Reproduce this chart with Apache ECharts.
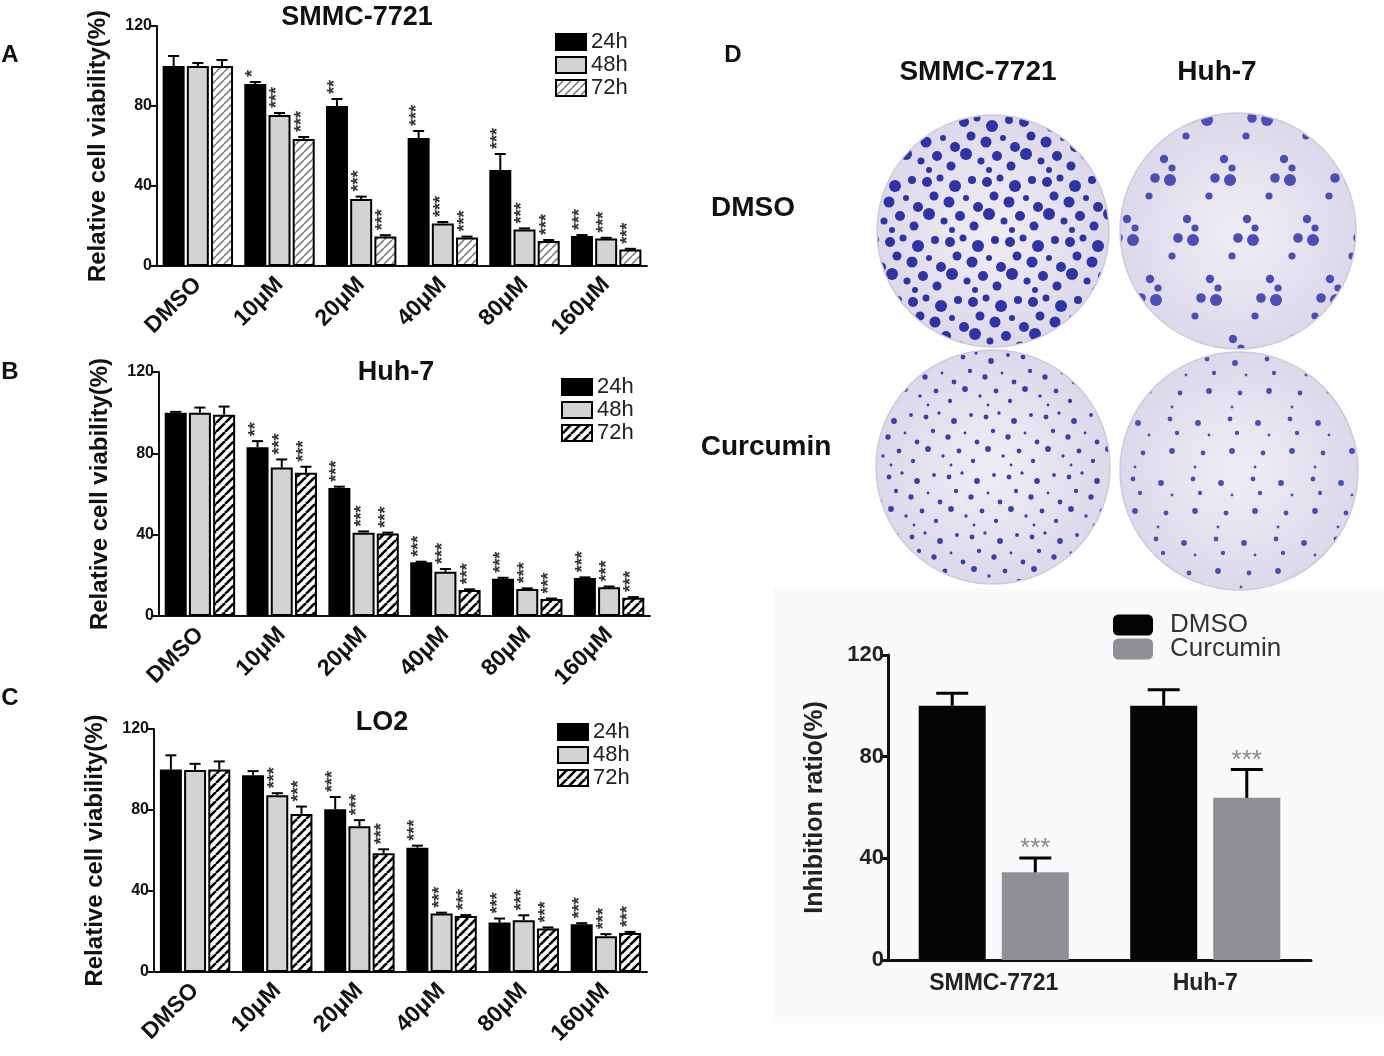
<!DOCTYPE html>
<html lang="en">
  <head>
    <meta charset="UTF-8" />
    <title>Curcumin cell viability</title>
    <script src="https://cdn.jsdelivr.net/npm/echarts@6.0.0/dist/echarts.min.js"></script>
    <style>
      body { margin: 0; background: #fff; }
    </style>
  </head>
  <body>
    <div id="chart" style="width: 1384px; height: 1056px"></div>
    <script>
      // categories
      const doses = ['DMSO', '10μM', '20μM', '40μM', '80μM', '160μM']
      const times = ['24h', '48h', '72h']
      const cellLines = ['SMMC-7721', 'Huh-7']

      // A - SMMC-7721 viability (%), SEM, significance
      const smmc24 = [100, 91, 80, 64, 48, 15]
      const smmc48 = [100, 75.5, 33.5, 21.3, 18.3, 13.7]
      const smmc72 = [100, 63.5, 14.7, 14.3, 12.5, 8.3]
      const smmc24Err = [5, 1, 3.5, 3.5, 8, 0.5]
      const smmc48Err = [1.5, 1, 1.2, 0.7, 0.5, 0.4]
      const smmc72Err = [3, 1, 0.7, 0.4, 0.5, 0.3]
      const smmc24Sig = ['', '*', '**', '***', '***', '***']
      const smmc48Sig = ['', '***', '***', '***', '***', '***']
      const smmc72Sig = ['', '***', '***', '***', '***', '***']

      // B - Huh-7
      const huh24 = [100, 83, 63, 26.4, 18.3, 18.7]
      const huh48 = [100, 73, 41, 21.8, 13.3, 14.1]
      const huh72 = [99, 70.4, 40.6, 12.8, 8.3, 9]
      const huh24Err = [0.4, 3, 0.6, 0.3, 0.5, 0.3]
      const huh48Err = [2.5, 4, 0.6, 1.3, 0.3, 0.4]
      const huh72Err = [4, 3, 0.4, 0.3, 0.3, 0.3]
      const huh24Sig = ['', '**', '***', '***', '***', '***']
      const huh48Sig = ['', '***', '***', '***', '***', '***']
      const huh72Sig = ['', '***', '***', '***', '***', '***']

      // C - LO2
      const lo24 = [100, 97.2, 80.4, 61.4, 24.4, 23.6]
      const lo48 = [99.8, 87.3, 72, 28.9, 25.6, 17.7]
      const lo72 = [100, 78, 58.6, 27.6, 21.5, 19.3]
      const lo24Err = [7, 2, 6, 1, 2, 0.5]
      const lo48Err = [3, 1, 3, 0.4, 2.4, 1]
      const lo72Err = [4, 3.7, 2, 0.5, 0.5, 0.5]
      const lo24Sig = ['', '', '***', '***', '***', '***']
      const lo48Sig = ['', '***', '***', '***', '***', '***']
      const lo72Sig = ['', '***', '***', '***', '***', '***']

      // D - colony formation inhibition ratio (%)
      const colonyDmso = [100, 100]
      const colonyCurcumin = [34.5, 63.8]
      const colonyDmsoErr = [5, 6.3]
      const colonyCurcuminErr = [5.6, 11.2]
      const colonyDmsoSig = ['', '']
      const colonyCurcuminSig = ['***', '***']

      const FONT = 'Liberation Sans, Arial, sans-serif'

      // diagonal hatch tiles
      function hatch(stroke, width, size) {
        const c = document.createElement('canvas')
        c.width = size
        c.height = size
        const g = c.getContext('2d')
        g.fillStyle = '#fff'
        g.fillRect(0, 0, size, size)
        g.strokeStyle = stroke
        g.lineWidth = width
        for (const o of [-size, 0, size]) {
          g.beginPath()
          g.moveTo(o, size)
          g.lineTo(o + size, 0)
          g.stroke()
        }
        return { image: c, repeat: 'repeat' }
      }
      const hatchGray = hatch('#858585', 1.7, 8)
      const hatchBlack = hatch('#000', 2.6, 9)

      const panels = [
        {
          title: 'SMMC-7721', titleXY: [357, 18],
          grid: { left: 157, top: 26, width: 490, height: 240 },
          legend: { left: 555, top: 31 },
          values: [smmc24, smmc48, smmc72],
          errs: [smmc24Err, smmc48Err, smmc72Err],
          sigs: [smmc24Sig, smmc48Sig, smmc72Sig],
          hatch: hatchGray,
        },
        {
          title: 'Huh-7', titleXY: [396, 373],
          grid: { left: 159, top: 372, width: 491, height: 244 },
          legend: { left: 561, top: 376 },
          values: [huh24, huh48, huh72],
          errs: [huh24Err, huh48Err, huh72Err],
          sigs: [huh24Sig, huh48Sig, huh72Sig],
          hatch: hatchBlack,
        },
        {
          title: 'LO2', titleXY: [382, 723],
          grid: { left: 154, top: 729, width: 493, height: 243 },
          legend: { left: 557, top: 721 },
          values: [lo24, lo48, lo72],
          errs: [lo24Err, lo48Err, lo72Err],
          sigs: [lo24Sig, lo48Sig, lo72Sig],
          hatch: hatchBlack,
        },
      ]

      // error bar + stars drawn at the bar slot
      function errorSeries(axis, vals, errs, sigs, slot, cfg) {
        return {
          type: 'custom',
          xAxisIndex: axis,
          yAxisIndex: axis,
          z: 5,
          silent: true,
          data: vals.map((v, i) => [i, v, errs[i]]),
          renderItem: (params, api) => {
            const i = api.value(0)
            const v = api.value(1)
            const e = api.value(2)
            const base = api.coord([i, v])
            const top = api.coord([i, v + e])
            const x = base[0] + slot * cfg.step
            const ls = { stroke: '#000', lineWidth: cfg.lw }
            const children = [
              { type: 'line', shape: { x1: x, y1: base[1], x2: x, y2: top[1] }, style: ls },
              { type: 'line', shape: { x1: x - cfg.cap / 2, y1: top[1], x2: x + cfg.cap / 2, y2: top[1] }, style: ls },
            ]
            const s = sigs[params.dataIndex]
            if (s) {
              if (cfg.vertical) {
                children.push({
                  type: 'text', x: x - 2, y: top[1] - 5, rotation: Math.PI / 2,
                  style: { text: s, fill: '#333', font: 'bold 18px ' + FONT, align: 'left', verticalAlign: 'middle' },
                })
              } else {
                children.push({
                  type: 'text', x: x, y: top[1] + 4,
                  style: { text: s, fill: '#8a8a8a', font: '26px ' + FONT, align: 'center', verticalAlign: 'bottom' },
                })
              }
            }
            return { type: 'group', children }
          },
        }
      }

      const grids = []
      const xAxes = []
      const yAxes = []
      const legends = []
      const series = []
      const graphics = []

      const barFills = p => ['#000', '#d3d3d3', p.hatch]

      panels.forEach((p, k) => {
        grids.push(p.grid)
        xAxes.push({
          gridIndex: k, type: 'category', data: doses,
          axisLine: { lineStyle: { color: '#111', width: 2 } },
          axisTick: { alignWithLabel: true, length: 6, lineStyle: { color: '#111', width: 2 } },
          axisLabel: { rotate: 45, fontSize: 23, fontWeight: 'bold', color: '#111', fontFamily: FONT, margin: 15 },
        })
        yAxes.push({
          gridIndex: k, type: 'value', min: 0, max: 120, interval: 40,
          name: 'Relative cell viability(%)', nameLocation: 'middle', nameGap: 47,
          nameTextStyle: { fontSize: 24, fontWeight: 'bold', color: '#111', fontFamily: FONT },
          axisLine: { show: true, lineStyle: { color: '#111', width: 2 } },
          axisTick: { show: true, length: 6, lineStyle: { color: '#111', width: 2 } },
          axisLabel: { fontSize: 16, fontWeight: 'bold', color: '#111', fontFamily: FONT, margin: 5 },
          splitLine: { show: false },
        })
        const fills = barFills(p)
        legends.push({
          left: p.legend.left, top: p.legend.top, orient: 'vertical', padding: 0,
          itemWidth: 30, itemHeight: 16, itemGap: 1, selectedMode: false, icon: 'rect',
          textStyle: { fontSize: 22, color: '#222', fontFamily: FONT },
          data: times.map((t, j) => ({ name: t, itemStyle: { color: fills[j], borderColor: '#000', borderWidth: 2 } })),
        })
        times.forEach((t, j) => {
          series.push({
            type: 'bar', name: t, xAxisIndex: k, yAxisIndex: k,
            data: p.values[j], barWidth: 22, barGap: '10%',
            itemStyle: { color: fills[j], borderColor: '#000', borderWidth: 2 },
          })
        })
        times.forEach((t, j) => {
          series.push(errorSeries(k, p.values[j], p.errs[j], p.sigs[j], j - 1,
            { step: 22 * 1.1, cap: 11, lw: 2, vertical: true }))
        })
        graphics.push({
          type: 'text', x: p.titleXY[0], y: p.titleXY[1], z: 10,
          style: { text: p.title, font: 'bold 27px ' + FONT, fill: '#111', align: 'center', verticalAlign: 'middle' },
        })
      })

      // panel D bar chart
      grids.push({ left: 888, top: 655, width: 423, height: 305 })
      xAxes.push({
        gridIndex: 3, type: 'category', data: cellLines,
        axisLine: { lineStyle: { color: '#111', width: 3 } },
        axisTick: { alignWithLabel: true, length: 8, lineStyle: { color: '#111', width: 3 } },
        axisLabel: { fontSize: 23, fontWeight: 'bold', color: '#222', fontFamily: FONT, margin: 12 },
      })
      yAxes.push({
        gridIndex: 3, type: 'value', min: 0, max: 120, interval: 40,
        name: 'Inhibition ratio(%)', nameLocation: 'middle', nameGap: 60,
        nameTextStyle: { fontSize: 25, fontWeight: 'bold', color: '#222', fontFamily: FONT },
        axisLine: { show: true, lineStyle: { color: '#111', width: 3 } },
        axisTick: { show: true, length: 8, lineStyle: { color: '#111', width: 3 } },
        axisLabel: { fontSize: 22, fontWeight: 'bold', color: '#222', fontFamily: FONT, margin: 4 },
        splitLine: { show: false },
      })
      legends.push({
        left: 1113, top: 612, orient: 'vertical', padding: 0, icon: 'roundRect',
        itemWidth: 40, itemHeight: 21, itemGap: -2, selectedMode: false,
        textStyle: { fontSize: 26, color: '#333', fontFamily: FONT, padding: [0, 0, 0, 12] },
        data: ['DMSO', 'Curcumin'],
      })
      series.push(
        { type: 'bar', name: 'DMSO', xAxisIndex: 3, yAxisIndex: 3, data: colonyDmso, barWidth: 67, barGap: '24%', itemStyle: { color: '#050508' } },
        { type: 'bar', name: 'Curcumin', xAxisIndex: 3, yAxisIndex: 3, data: colonyCurcumin, barWidth: 67, itemStyle: { color: '#8e9094' } },
        errorSeries(3, colonyDmso, colonyDmsoErr, colonyDmsoSig, -0.5, { step: 67 * 1.24, cap: 32, lw: 3, vertical: false }),
        errorSeries(3, colonyCurcumin, colonyCurcuminErr, colonyCurcuminSig, 0.5, { step: 67 * 1.24, cap: 32, lw: 3, vertical: false })
      )

      // colony plate pictures (decorative texture)
      const colonyTile = [
        [5, 8, 1], [18, 4, 0.7], [33, 12, 1.2], [50, 6, 0.8], [12, 22, 0.9], [27, 28, 1.1],
        [44, 24, 0.6], [56, 33, 1], [7, 40, 1.2], [22, 47, 0.7], [38, 42, 1], [52, 52, 0.9], [30, 56, 0.6],
      ]
      function plateCanvas(r, cfg) {
        const d = 2 * r
        const c = document.createElement('canvas')
        c.width = d
        c.height = d
        const g = c.getContext('2d')
        g.save()
        g.beginPath()
        g.arc(r, r, r - 1, 0, 2 * Math.PI)
        g.clip()
        const grad = g.createRadialGradient(r, r, r * 0.1, r, r, r)
        grad.addColorStop(0, '#efebf4')
        grad.addColorStop(1, '#ddd8ea')
        g.fillStyle = grad
        g.fillRect(0, 0, d, d)
        g.fillStyle = cfg.dot
        const T = 60
        let row = 0
        for (let ty = -T; ty < d + T; ty += T, row++) {
          const shift = (row * 23) % T
          for (let tx = -T; tx < d + T; tx += T) {
            colonyTile.forEach((pt, j) => {
              if (j % cfg.every) return
              g.beginPath()
              g.arc(tx + shift + pt[0], ty + pt[1], pt[2] * cfg.size, 0, 2 * Math.PI)
              g.fill()
            })
          }
        }
        g.restore()
        g.strokeStyle = '#cfc9df'
        g.lineWidth = 1.5
        g.beginPath()
        g.arc(r, r, r - 1, 0, 2 * Math.PI)
        g.stroke()
        return c
      }
      const plates = [
        { cx: 993, cy: 231, r: 117, cfg: { dot: '#2c34a6', size: 5, every: 1 } },
        { cx: 1238, cy: 231, r: 119, cfg: { dot: '#4a4fb6', size: 6, every: 3 } },
        { cx: 993, cy: 467, r: 118, cfg: { dot: '#3b40ae', size: 2.4, every: 1 } },
        { cx: 1239, cy: 471, r: 120, cfg: { dot: '#4a4fb6', size: 2.4, every: 2 } },
      ]
      plates.forEach(pl => {
        graphics.push({
          type: 'image', x: pl.cx - pl.r, y: pl.cy - pl.r, z: 5,
          style: { image: plateCanvas(pl.r, pl.cfg), width: 2 * pl.r, height: 2 * pl.r },
        })
      })

      const bigBold = 'bold 28px ' + FONT
      graphics.push(
        { type: 'rect', z: -10, shape: { x: 773, y: 588, width: 611, height: 435 }, style: { fill: '#fbf9fb' } },
        { type: 'text', x: 978, y: 72, z: 10, style: { text: 'SMMC-7721', font: bigBold, fill: '#111', align: 'center', verticalAlign: 'middle' } },
        { type: 'text', x: 1217, y: 72, z: 10, style: { text: 'Huh-7', font: bigBold, fill: '#111', align: 'center', verticalAlign: 'middle' } },
        { type: 'text', x: 753, y: 208, z: 10, style: { text: 'DMSO', font: bigBold, fill: '#111', align: 'center', verticalAlign: 'middle' } },
        { type: 'text', x: 766, y: 447, z: 10, style: { text: 'Curcumin', font: bigBold, fill: '#111', align: 'center', verticalAlign: 'middle' } }
      )
      const letters = [['A', 10, 55], ['B', 10, 372], ['C', 10, 698], ['D', 733, 55]]
      letters.forEach(l => {
        graphics.push({
          type: 'text', x: l[1], y: l[2], z: 10,
          style: { text: l[0], font: 'bold 24px ' + FONT, fill: '#111', align: 'center', verticalAlign: 'middle' },
        })
      })

      const chart = echarts.init(document.getElementById('chart'))
      chart.setOption({
        animation: false,
        backgroundColor: '#fff',
        grid: grids,
        xAxis: xAxes,
        yAxis: yAxes,
        legend: legends,
        series: series,
        graphic: graphics,
      })
    </script>
  </body>
</html>
